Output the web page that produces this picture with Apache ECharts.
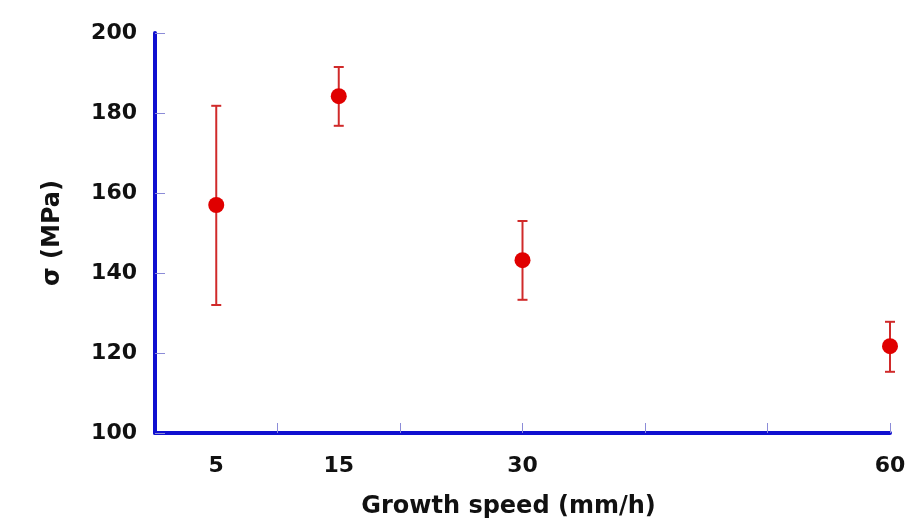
<!DOCTYPE html>
<html>
<head>
    <meta charset="utf-8">
    <title>Growth speed vs strength</title>
    <script src="https://cdn.jsdelivr.net/npm/echarts@6/dist/echarts.min.js"></script>
</head>
<body style="margin:0;background:#fff;">
    <div id="main" style="width: 915px;height:532px;"></div>
    <script type="text/javascript">
        // data
        var speeds = [5, 15, 30, 60];
        var sigma = [157, 184.2, 143.2, 121.7];
        var errLow = [132, 176.8, 133.3, 115.3];
        var errHigh = [181.8, 191.5, 153, 127.8];
        var xTicks = [10, 20, 30, 40, 50, 60];
        var xLabels = [5, 15, 30, 60];
        var yTicks = [100, 120, 140, 160, 180, 200];

        var myChart = echarts.init(document.getElementById('main'));

        var points = speeds.map(function (s, i) { return [s, sigma[i]]; });
        var bars = speeds.map(function (s, i) { return [s, errLow[i], errHigh[i]]; });

        var axisFont = {
            fontFamily: 'DejaVu Sans',
            fontWeight: 'bold',
            fontSize: 22,
            color: '#111'
        };

        myChart.setOption({
            animation: false,
            grid: {
                left: 155,
                right: 25,
                top: 33,
                bottom: 99
            },
            xAxis: {
                type: 'value',
                min: 0,
                max: 60,
                name: 'Growth speed (mm/h)',
                nameLocation: 'middle',
                nameGap: 62,
                nameTextStyle: Object.assign({}, axisFont, { fontSize: 24, padding: [0, 28, 0, 0] }),
                splitLine: { show: false },
                axisLine: { lineStyle: { color: '#1010d0', width: 4 } },
                axisTick: {
                    customValues: xTicks,
                    inside: true,
                    length: 10,
                    lineStyle: { color: '#8c8cd8', width: 1 }
                },
                axisLabel: Object.assign({ customValues: xLabels, margin: 22 }, axisFont)
            },
            yAxis: {
                type: 'value',
                min: 100,
                max: 200,
                name: 'σ (MPa)',
                nameLocation: 'middle',
                nameRotate: 90,
                nameGap: 90,
                nameTextStyle: Object.assign({}, axisFont, { fontSize: 24 }),
                splitLine: { show: false },
                axisLine: { show: true, lineStyle: { color: '#1010d0', width: 4 } },
                axisTick: {
                    customValues: yTicks,
                    inside: true,
                    length: 10,
                    lineStyle: { color: '#8c8cd8', width: 1 }
                },
                axisLabel: Object.assign({ customValues: yTicks, margin: 18 }, axisFont)
            },
            series: [
                {
                    type: 'custom',
                    data: bars,
                    encode: { x: 0, y: [1, 2] },
                    renderItem: function (params, api) {
                        var x = api.value(0);
                        var lo = api.coord([x, api.value(1)]);
                        var hi = api.coord([x, api.value(2)]);
                        var w = 5;
                        var style = { stroke: '#d02a2a', lineWidth: 2 };
                        return {
                            type: 'group',
                            children: [
                                { type: 'line', shape: { x1: lo[0], y1: lo[1], x2: hi[0], y2: hi[1] }, style: style },
                                { type: 'line', shape: { x1: lo[0] - w, y1: lo[1], x2: lo[0] + w, y2: lo[1] }, style: style },
                                { type: 'line', shape: { x1: hi[0] - w, y1: hi[1], x2: hi[0] + w, y2: hi[1] }, style: style }
                            ]
                        };
                    },
                    z: 2
                },
                {
                    type: 'scatter',
                    data: points,
                    symbol: 'circle',
                    symbolSize: 16,
                    itemStyle: { color: '#e00000', opacity: 1 },
                    z: 3
                }
            ]
        });
    </script>
</body>
</html>
